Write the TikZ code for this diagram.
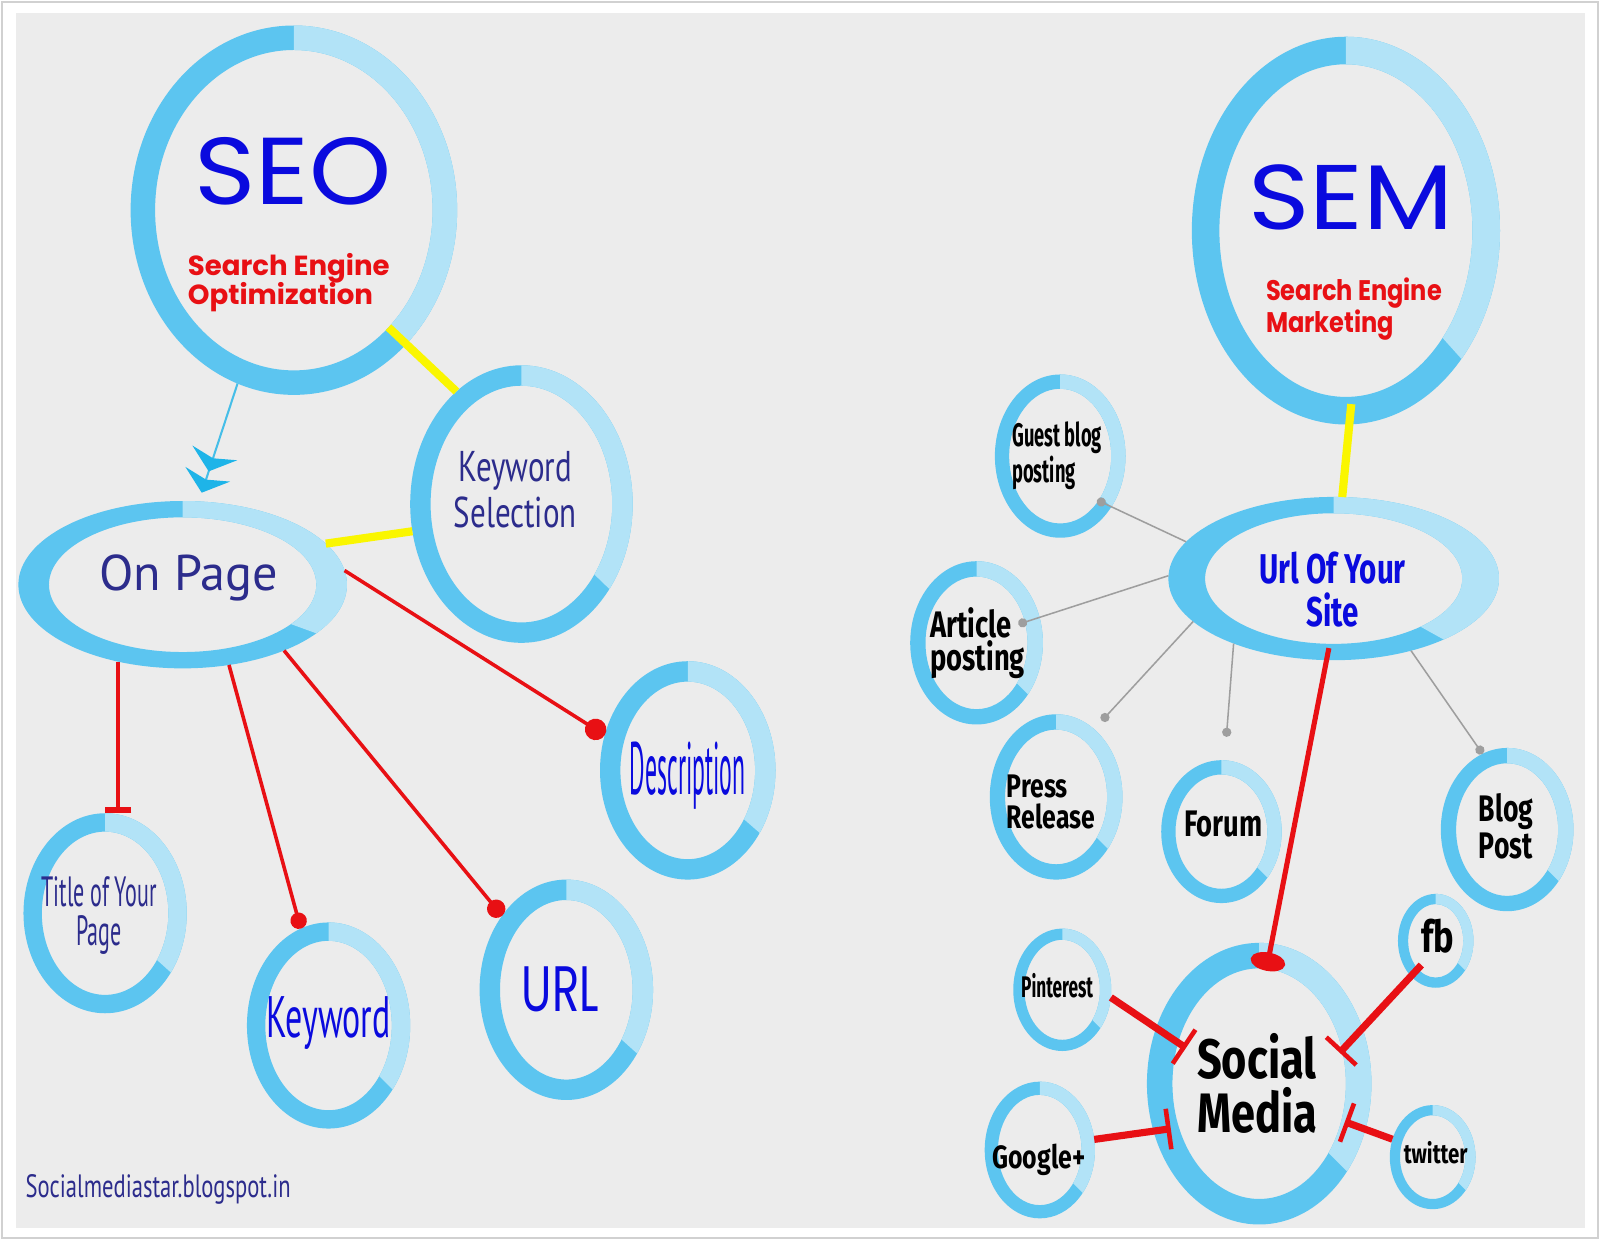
\documentclass[tikz,border=0pt]{standalone}
\usepackage{fontspec}
\usetikzlibrary{arrows.meta,calc,shapes.geometric}
\definecolor{ringdark}{RGB}{92,197,240}
\definecolor{ringlight}{RGB}{178,227,247}
\definecolor{paper}{RGB}{236,236,236}
\definecolor{seored}{RGB}{232,16,20}
\definecolor{seoblue}{RGB}{10,10,222}
\definecolor{seonavy}{RGB}{44,44,140}
\definecolor{linkyellow}{RGB}{250,246,0}
\definecolor{chevron}{RGB}{30,180,232}
\definecolor{thinblue}{RGB}{70,190,232}
% fonts: stretch, size, baselineskip
\newcommand\popf[3]{\fontspec[FakeStretch=#1]{Poppins}\fontsize{#2}{#3}\selectfont}
\newcommand\ptf[3]{\fontspec[FakeStretch=#1]{PT Sans}\fontsize{#2}{#3}\selectfont}
\newcommand\firaf[3]{\fontspec[FakeStretch=#1]{Fira Sans}\fontsize{#2}{#3}\selectfont\bfseries}
% two-tone ring: name, x, y, rx, ry, thickness x, thickness y, end of light arc
\newcommand\ringnode[8]{%
  \node[ringbox, minimum width=#4*0.2mm, minimum height=#5*0.2mm] (#1) at (#2,#3) {};
  \fill[ringdark, even odd rule] (#1.center) ellipse[x radius=#4, y radius=#5]
    (#1.center) ellipse[x radius=#4-#6, y radius=#5-#7];
  \begin{scope}
    \clip (#1.center) -- +(-90:{2*(#4+#5)}) -- +(-45:{2*(#4+#5)}) -- +(0:{2*(#4+#5)})
      -- +({#8/2}:{2*(#4+#5)}) -- +(#8:{2*(#4+#5)}) -- cycle;
    \fill[ringlight, even odd rule] (#1.center) ellipse[x radius=#4, y radius=#5]
      (#1.center) ellipse[x radius=#4-#6, y radius=#5-#7];
  \end{scope}}

\begin{document}
\begin{tikzpicture}[x=0.1mm, y=-0.1mm,
  ringbox/.style={ellipse, inner sep=0pt, outer sep=0pt},
  lbl/.style={inner sep=0pt},
  yel/.style={draw=linkyellow, line width=0.8mm},
  redthin/.style={draw=seored, line width=0.35mm},
  redmid/.style={draw=seored, line width=0.5mm},
  redbar/.style={draw=seored, line width=0.7mm, -{Bar[width=4mm,line width=0.45mm]}},
  grayline/.style={draw=black!38, line width=0.15mm, -{Circle[length=0.9mm]}},
  chev/.tip={Stealth[length=1.9mm,width=4.6mm,inset=0.55mm,color=chevron,sep=0.3mm]}]
\useasboundingbox (0,0) rectangle (1568,1215);
\fill[white] (0,0) rectangle (1568,1215);
\draw[black!18, line width=0.2mm] (2,2) rectangle (1566,1213);
\fill[paper] (16,13) rectangle (1553,1203);

% rings
\foreach \n/\x/\y/\rx/\ry/\tx/\ty/\s in {
  seo/288/206/160/181/24/24/51, ks/511/494/109/136/20/20/44,
  op/179/573/161/82/30/16/20, title/103/895/80/98/18/18/42,
  kw/322/1005/80/101/18/18/45, url/555/970/85/108/20/20/42,
  desc/674/755/86/107/20/20/41, sem/1319/226/151/190/27/27/48,
  site/1307/567/162/80/36/16/29, guest/1039/447/64/80/14/14/45,
  article/957/630/65/80/15/15/45, press/1035/781/65/81/15/15/45,
  forum/1197/815/59/70/14/14/45, blog/1477/813/65/80/15/15/45,
  soc/1234/1062/110/138/25/25/45, pin/1041/970/48/60/11/11/45,
  fb/1407/922/37/46/10/10/45, goog/1019/1127/54/67/13/13/45,
  tw/1404/1134/42/51/10/10/45}
  \ringnode{\n}{\x}{\y}{\rx}{\ry}{\tx}{\ty}{\s};

% texts, SEO side
\node[lbl, text=seoblue, font=\popf{1.1}{26.5}{30}] (seo-t) at (287,168) {SEO};
\node[lbl, text=seored, align=left, font=\popf{1}{7.7}{8.3}\bfseries] (seo-sub) at (283,277) {Search Engine\\Optimization};
\node[lbl, text=seonavy, align=center, font=\ptf{0.72}{12}{12.8}] (ks-t) at (505,480) {Keyword\\Selection};
\node[lbl, text=seonavy, font=\ptf{1}{14}{16}] (op-t) at (185,566) {On Page};
\node[lbl, text=seonavy, align=center, font=\ptf{0.52}{11.8}{11}] (title-t) at (97,897) {Title of Your\\Page};
\node[lbl, text=seoblue, font=\ptf{0.58}{16.3}{18}] (kw-t) at (322,1003) {Keyword};
\node[lbl, text=seoblue, font=\popf{0.7}{17.9}{20}] (url-t) at (549,970) {URL};
\node[lbl, text=seoblue, font=\ptf{0.32}{20.7}{22}] (desc-t) at (674,760) {Description};
\node[lbl, text=seonavy, font=\ptf{0.7}{9}{10}] (credit) at (155,1166) {Socialmediastar.blogspot.in};

% texts, SEM side
\node[lbl, text=seoblue, font=\popf{1.14}{25.6}{30}] (sem-t) at (1324,193) {SEM};
\node[lbl, text=seored, align=left, font=\popf{0.85}{7.9}{9.1}\bfseries] (sem-sub) at (1327,303) {Search Engine\\Marketing};
\node[lbl, text=seoblue, align=center, font=\firaf{0.71}{11.6}{12}] (site-t) at (1306,578) {Url Of Your\\Site};
\node[lbl, align=left, font=\firaf{0.56}{9.1}{10}] (guest-t) at (1036,447) {Guest blog\\posting};
\node[lbl, align=left, font=\firaf{0.74}{10.3}{9.1}] (article-t) at (958,630) {Article\\posting};
\node[lbl, align=left, font=\firaf{0.76}{9.1}{8.5}] (press-t) at (1030,786) {Press\\Release};
\node[lbl, font=\firaf{0.74}{10.3}{11}] (forum-t) at (1199,808) {Forum};
\node[lbl, align=left, font=\firaf{0.72}{10.3}{9.4}] (blog-t) at (1476,810) {Blog\\Post};
\node[lbl, align=left, font=\firaf{0.78}{15.5}{15}] (soc-t) at (1232,1062) {Social\\Media};
\node[lbl, font=\firaf{0.58}{8.3}{9}] (pin-t) at (1036,966) {Pinterest};
\node[lbl, font=\firaf{0.78}{12.3}{13}] (fb-t) at (1409,917) {fb};
\node[lbl, font=\firaf{0.77}{9}{10}] (goog-t) at (1018,1137) {Google+};
\node[lbl, font=\firaf{0.75}{7.6}{8}] (tw-t) at (1407,1130) {twitter};

% connectors, SEO side
\draw[yel, shorten <=-2.4mm] (seo.-50) -- (ks.120);
\draw[yel] (op.16) -- (ks.194);
\draw[thinblue, line width=0.2mm, shorten >=0.6mm, -{chev[]chev[]}] (seo.-108) -- (op.79);
\draw[redthin, -{Bar[width=2.6mm,line width=0.6mm]}] (op.-130) -- (op.-130 |- title.north);
\draw[redthin, -{Circle[length=1.6mm]}] (op.-60) -- (kw.106);
\draw[redthin, -{Circle[length=1.8mm]}] (op.-33) -- (url.131);
\draw[redthin, -{Circle[length=2.1mm]}] (op.5) -- (desc.157);

% connectors, SEM side
\draw[yel, shorten <=-2mm] (sem.-89) -- (site.84);
\draw[grayline] (site.166) -- ($(guest.center)!0.78!(guest.-50)$);
\draw[grayline] (site.179) -- ($(article.center)!0.67!(article.24)$);
\draw[grayline] (site.-163) -- ($(press.center)!1.15!(press.59)$);
\draw[grayline] (site.-147) -- ($(forum.center)!1.33!(forum.87)$);
\draw[grayline] (site.-43) -- (blog.108);
\draw[redmid, shorten <=-1.2mm, shorten >=-2.7mm, -{Ellipse[length=1.8mm,width=3.4mm]}] (site.-95) -- (soc.85);
\draw[redbar] (pin.-9) -- ($(soc.center)!0.70!(soc.154)$);
\draw[redbar, shorten <=-1.5mm] (fb.-125) -- ($(soc.center)!0.75!(soc.21)$);
\draw[redbar] (goog.11) -- ($(soc.center)!0.85!(soc.207)$);
\draw[redbar] (tw.156) -- ($(soc.center)!0.81!(soc.-24)$);
\end{tikzpicture}
\end{document}
